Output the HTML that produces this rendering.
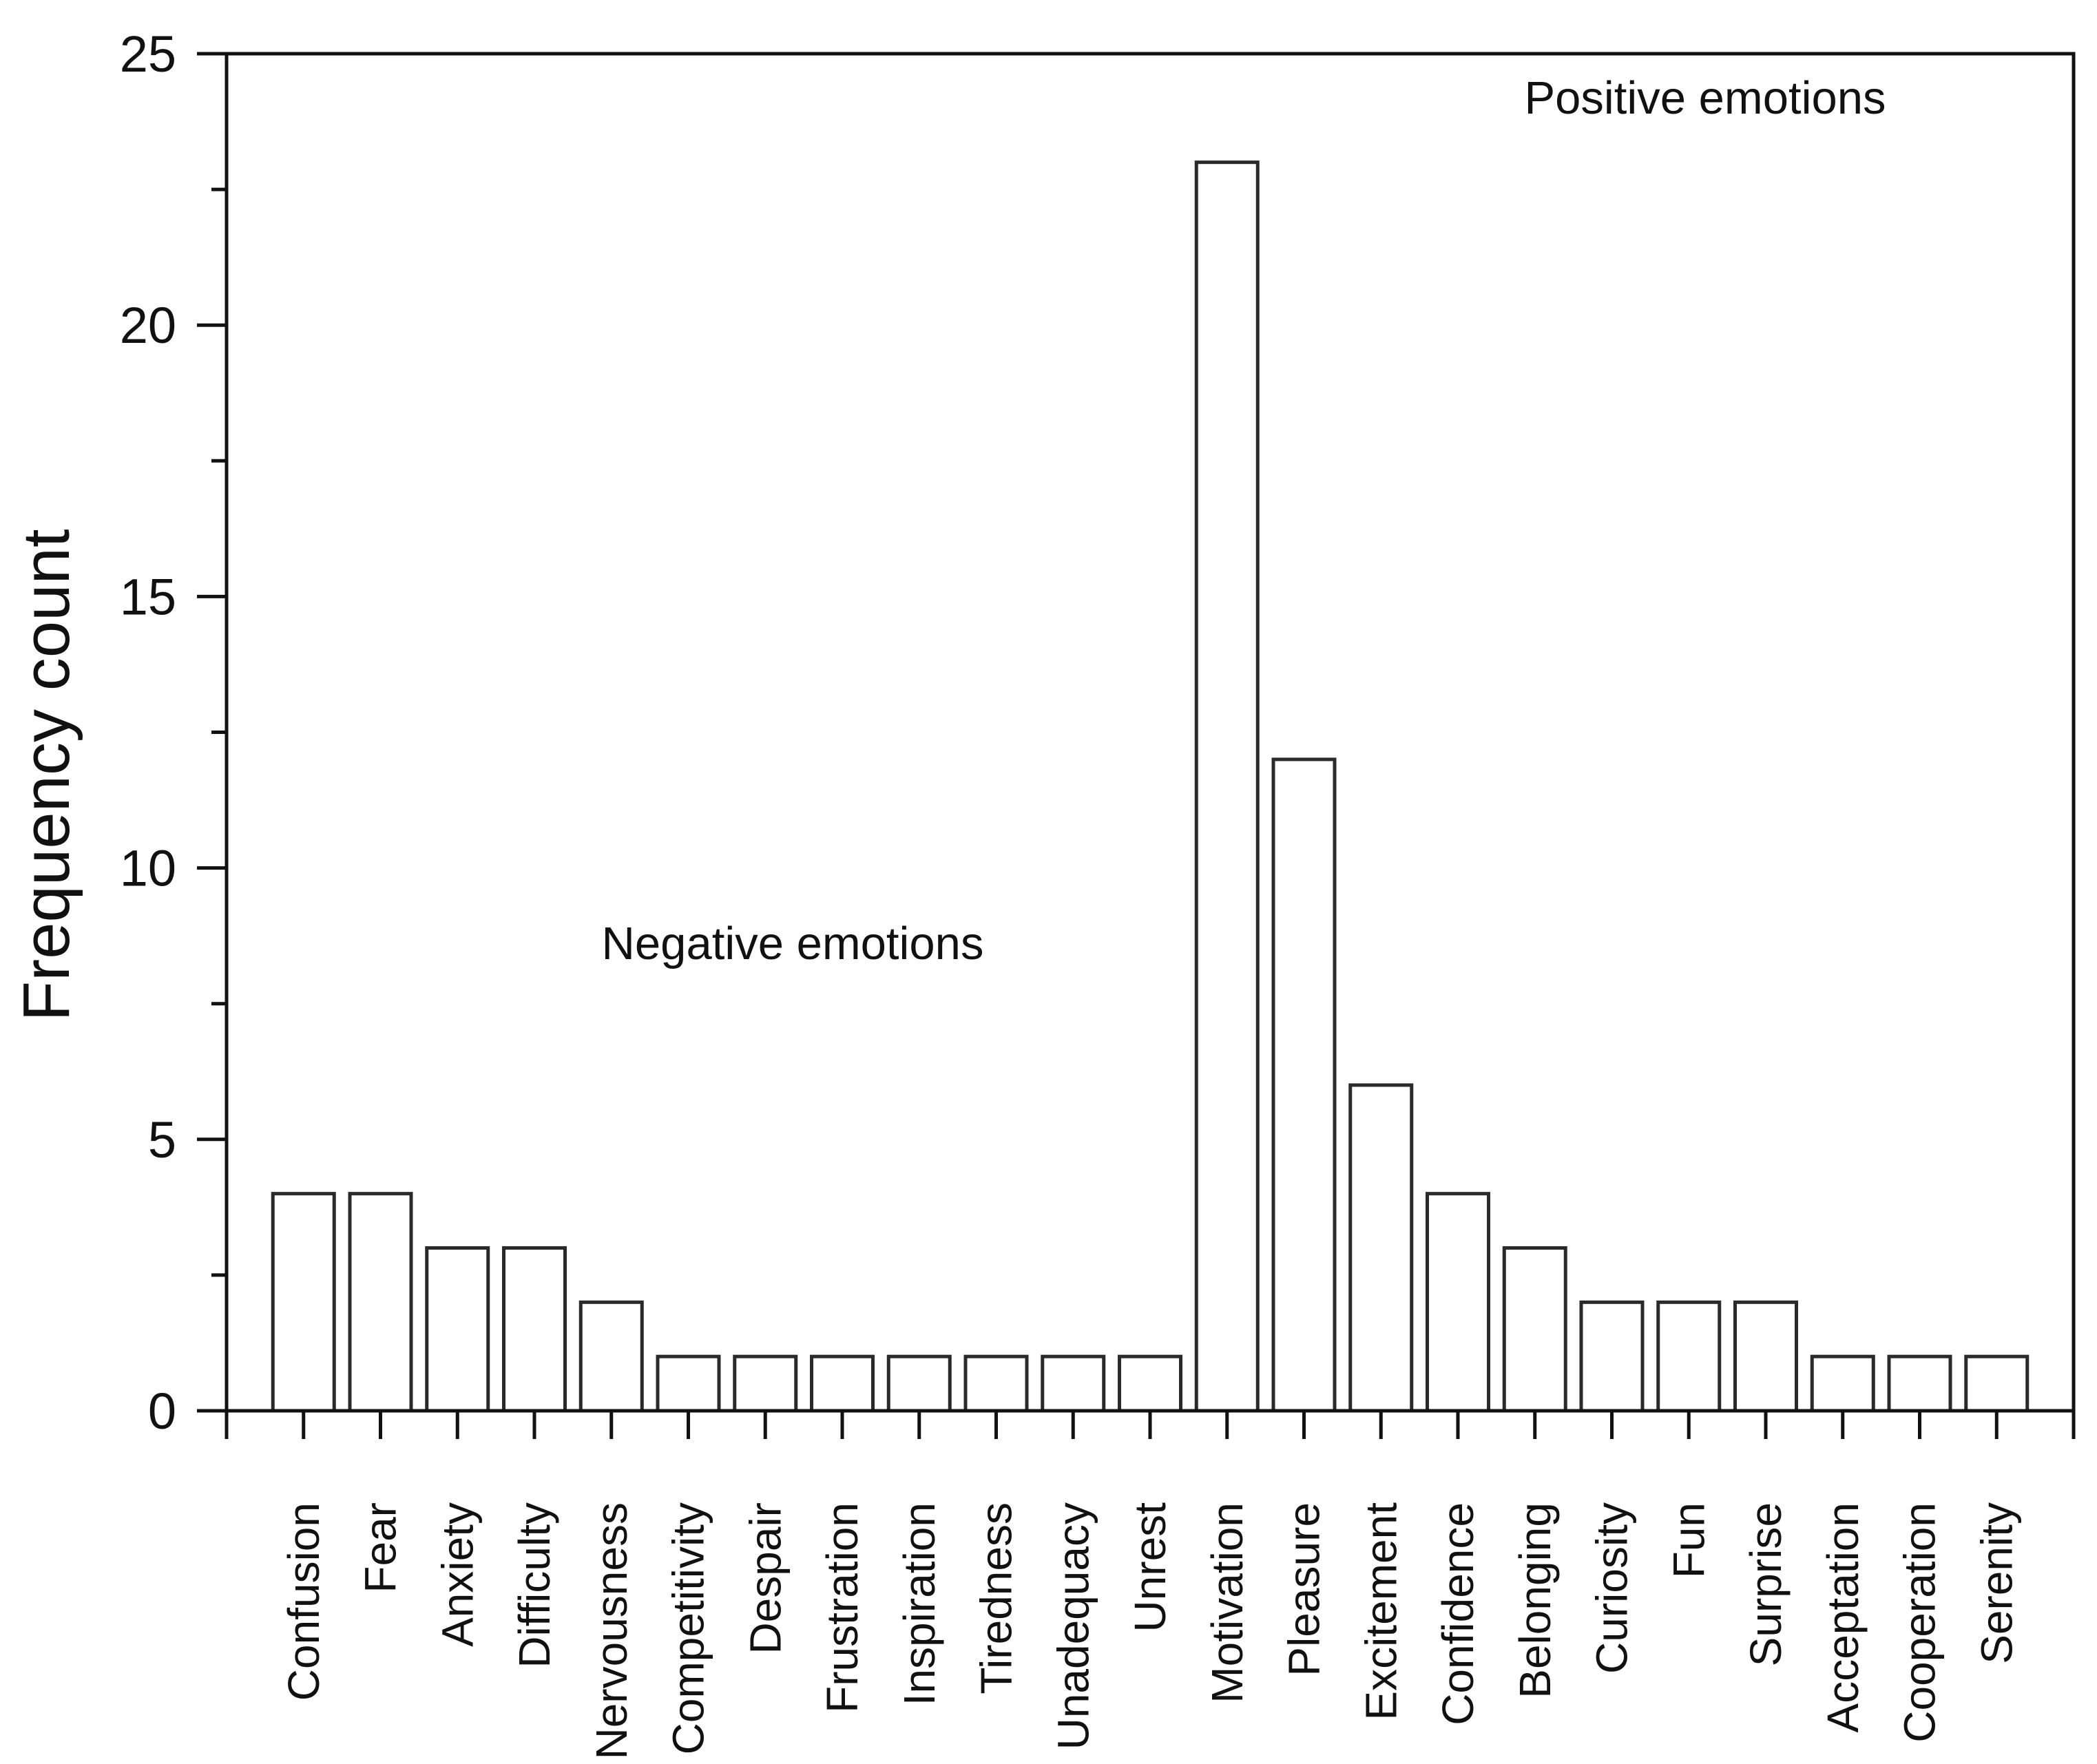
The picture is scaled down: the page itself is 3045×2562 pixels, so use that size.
<!DOCTYPE html>
<html><head><meta charset="utf-8"><style>
html,body{margin:0;padding:0;background:#fff;}
svg{display:block;}
text{font-family:"Liberation Sans",Arial,sans-serif;fill:#111;}
</style></head><body>
<svg id="chart" width="3045" height="2562" viewBox="0 0 3045 2562" xmlns="http://www.w3.org/2000/svg">
<g id="bars"></g>
<g id="axes"></g>
<text transform="translate(100,1126) rotate(-90)" text-anchor="middle" font-size="96">Frequency count</text>
<text x="1151" y="1393" text-anchor="middle" font-size="67">Negative emotions</text>
<text x="2476" y="165" text-anchor="middle" font-size="67">Positive emotions</text>
</svg>
<script>
const categories = ["Confusion","Fear","Anxiety","Difficulty","Nervousness","Competitivity","Despair","Frustration","Inspiration","Tiredness","Unadequacy","Unrest","Motivation","Pleasure","Excitement","Confidence","Belonging","Curiosity","Fun","Surprise","Acceptation","Cooperation","Serenity"];
const counts = [4,4,3,3,2,1,1,1,1,1,1,1,23,12,6,4,3,2,2,2,1,1,1];
const yTicks = [0,5,10,15,20,25];
const yMinorTicks = [2.5,7.5,12.5,17.5,22.5];

const NS="http://www.w3.org/2000/svg";
const L=329,R=3011,T=78,B=2049;
const xMax=24;
function x(i){return L+(i+1)*(R-L)/xMax;}
function y(v){return B-(v/25)*(B-T);}
const bw=89;
function mk(tag,attrs,parent){const e=document.createElementNS(NS,tag);for(const k in attrs)e.setAttribute(k,attrs[k]);parent.appendChild(e);return e;}
const bars=document.getElementById('bars');
const axes=document.getElementById('axes');
categories.forEach((c,i)=>{
  const r=mk('rect',{x:x(i)-bw/2,y:y(counts[i]),width:bw,height:B-y(counts[i]),fill:'#fff',stroke:'#2a2a2a','stroke-width':5},bars);
  
  
  const tk=mk('line',{x1:x(i),x2:x(i),y1:B,y2:B+41,stroke:'#111','stroke-width':5},axes);
  
  
  const t=mk('text',{transform:'translate('+(x(i)+22)+',2182) rotate(-90)','text-anchor':'end','font-size':64},axes);
  t.textContent=c;
  
  
});
const frame=mk('rect',{x:L,y:T,width:R-L,height:B-T,fill:'none',stroke:'#111','stroke-width':5},axes);


[L,R].forEach(px=>{
  const e=mk('line',{x1:px,x2:px,y1:B,y2:B+41,stroke:'#111','stroke-width':5},axes);
  
  
});
yTicks.forEach(v=>{
  const l=mk('line',{x1:L-43,x2:L,y1:y(v),y2:y(v),stroke:'#111','stroke-width':5},axes);
  
  
  const t=mk('text',{x:256,y:y(v)+26,'text-anchor':'end','font-size':74},axes);
  t.textContent=v;
  
  
});
yMinorTicks.forEach(v=>{
  const l=mk('line',{x1:L-22,x2:L,y1:y(v),y2:y(v),stroke:'#111','stroke-width':5},axes);
  
  
});
</script>
</body></html>
